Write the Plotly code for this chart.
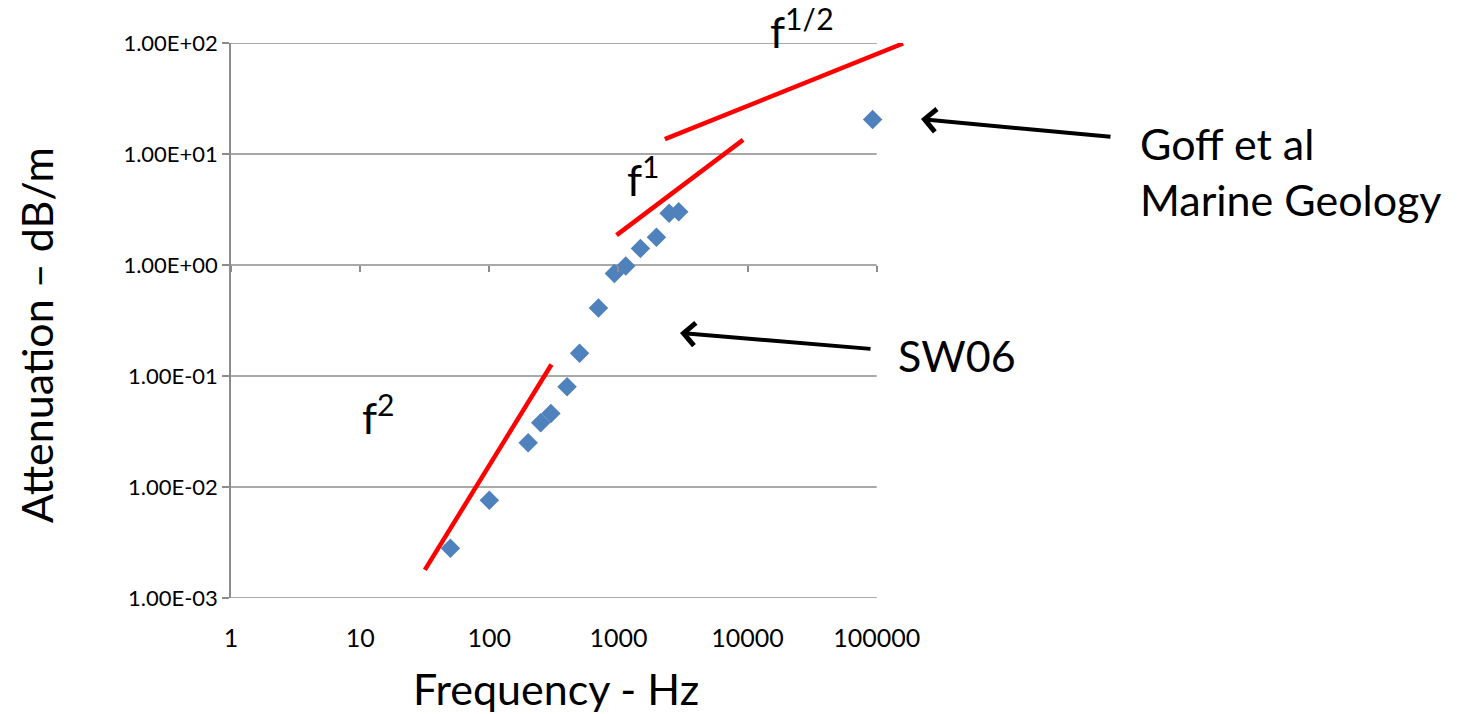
import plotly.graph_objects as go
import numpy as np

# ---- data ----
freq_hz = [50, 100, 200, 250, 300, 400, 500, 700, 930, 1140, 1480, 1970, 2470, 2930, 93000]
atten_db_m = [0.0028, 0.0076, 0.025, 0.038, 0.046, 0.080, 0.16, 0.41, 0.84, 0.98, 1.41, 1.78, 2.92, 3.02, 20.5]

f2_x = [31.7, 303]
f2_y = [0.00179, 0.127]
f1_x = [967, 9230]
f1_y = [1.86, 13.4]
fhalf_x = [2287, 160000]
fhalf_y = [13.6, 99]

x_ticks = [1, 10, 100, 1000, 10000, 100000]
x_ticktext = ["1", "10", "100", "1000", "10000", "100000"]
y_ticks = [0.001, 0.01, 0.1, 1, 10, 100]
y_ticktext = ["1.00E-03", "1.00E-02", "1.00E-01", "1.00E+00", "1.00E+01", "1.00E+02"]

FONT = "Lato, 'Open Sans', sans-serif"
GRID = "#8C8C8C"
XR = [0, 5.25]
YR = [-3, 2]
PAGE_OFF = 8  # browser body margin

fig = go.Figure()

# gridlines (end at 1e5 like the original)
for yv in y_ticks:
    fig.add_trace(go.Scatter(x=[x_ticks[0], x_ticks[-1]], y=[yv, yv], mode="lines",
                             line=dict(color=GRID, width=1.5), hoverinfo="skip", showlegend=False))

# red power-law guide lines
for lx, ly in [(f2_x, f2_y), (f1_x, f1_y), (fhalf_x, fhalf_y)]:
    fig.add_trace(go.Scatter(x=lx, y=ly, mode="lines", line=dict(color="#FF0000", width=4.5),
                             showlegend=False, hoverinfo="skip"))

# data
fig.add_trace(go.Scatter(x=freq_hz, y=atten_db_m, mode="markers",
                         marker=dict(symbol="diamond", size=15, color="#4F81BD", line=dict(width=0)),
                         showlegend=False))

# dummy trace for the overlay axis (tick marks on the y=1 crossing line)
fig.add_trace(go.Scatter(x=[1], y=[1], xaxis="x2", mode="markers", marker=dict(opacity=0),
                         showlegend=False, hoverinfo="skip"))

cross_pos = (np.log10(1) - YR[0]) / (YR[1] - YR[0])

plot_w = int(round(129.2 * XR[1]))
left = 231 - PAGE_OFF
top = 43 - PAGE_OFF
bottom = 714 - (598 - PAGE_OFF)

fig.update_layout(
    width=1461, height=714,
    margin=dict(l=left, r=1461 - left - plot_w, t=top, b=bottom),
    paper_bgcolor="white", plot_bgcolor="white",
    font=dict(family=FONT, color="black"),
    xaxis=dict(type="log", range=XR, tickvals=x_ticks, ticktext=x_ticktext,
               showgrid=False, zeroline=False, showline=False,
               ticks="outside", ticklen=18, tickcolor="rgba(0,0,0,0)",
               tickfont=dict(size=25, family=FONT, color="black")),
    xaxis2=dict(type="log", range=XR, overlaying="x", anchor="free", position=cross_pos,
                tickvals=x_ticks, showticklabels=False, showgrid=False, zeroline=False,
                showline=False, ticks="outside", ticklen=6, tickwidth=1.5, tickcolor=GRID),
    yaxis=dict(type="log", range=YR, tickvals=y_ticks, ticktext=y_ticktext,
               showgrid=False, zeroline=False, showline=True, linecolor=GRID, linewidth=1.5,
               ticks="outside", ticklen=7, tickwidth=1.5, tickcolor=GRID,
               tickfont=dict(size=22, family=FONT, color="black")),
)

def ppx(px):
    return (px - 231) / plot_w

def ppy(py):
    return (598 - py) / 555.0

ann = []
# axis titles
ann.append(dict(text="Frequency - Hz", x=ppx(556), y=ppy(688), xref="paper", yref="paper",
                showarrow=False, font=dict(size=43, family=FONT), xanchor="center", yanchor="middle"))
ann.append(dict(text="Attenuation – dB/m", x=ppx(36), y=ppy(335), xref="paper", yref="paper",
                showarrow=False, textangle=-90, font=dict(size=43, family=FONT),
                xanchor="center", yanchor="middle"))
# labels
ann.append(dict(text="Goff et al<br>Marine Geology", x=ppx(1138), y=ppy(172), xref="paper", yref="paper",
                showarrow=False, align="left", xanchor="left", yanchor="middle",
                font=dict(size=43, family=FONT)))
ann.append(dict(text="SW06", x=ppx(896), y=ppy(355), xref="paper", yref="paper",
                showarrow=False, xanchor="left", yanchor="middle", font=dict(size=43, family=FONT)))
ann.append(dict(text="f<sup>1/2</sup>", x=ppx(768), y=ppy(28), xref="paper", yref="paper",
                showarrow=False, xanchor="left", yanchor="middle", font=dict(size=43, family=FONT)))
ann.append(dict(text="f<sup>1</sup>", x=ppx(625), y=ppy(176), xref="paper", yref="paper",
                showarrow=False, xanchor="left", yanchor="middle", font=dict(size=43, family=FONT)))
ann.append(dict(text="f<sup>2</sup>", x=ppx(360), y=ppy(414), xref="paper", yref="paper",
                showarrow=False, xanchor="left", yanchor="middle", font=dict(size=43, family=FONT)))
# arrows
ann.append(dict(text="", x=ppx(921), y=ppy(119), xref="paper", yref="paper", showarrow=True,
                ax=191, ay=18, arrowhead=4, arrowsize=1.1, arrowwidth=4, arrowcolor="black"))
ann.append(dict(text="", x=ppx(680), y=ppy(333), xref="paper", yref="paper", showarrow=True,
                ax=192, ay=16, arrowhead=4, arrowsize=1.1, arrowwidth=4, arrowcolor="black"))
fig.update_layout(annotations=ann)

fig.write_html("out.html")
